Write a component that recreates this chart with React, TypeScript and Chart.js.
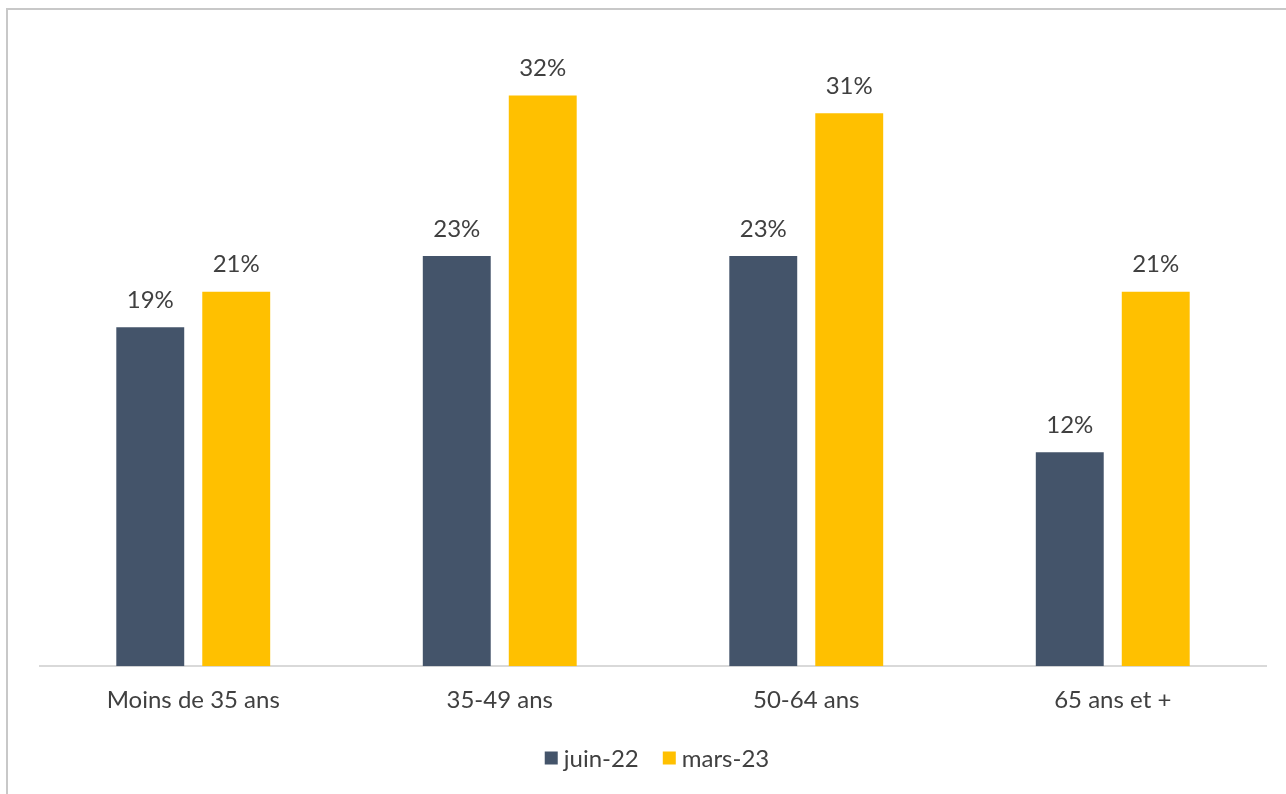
import React, { useEffect, useRef } from "react";
import { Chart, registerables } from "chart.js";

Chart.register(...registerables);

const categories = ["Moins de 35 ans", "35-49 ans", "50-64 ans", "65 ans et +"];
const seriesNames = ["juin-22", "mars-23"];
const juin22 = [19, 23, 23, 12];
const mars23 = [21, 32, 31, 21];
const seriesColors = ["#44546A", "#FFC000"];

const FONT = "Lato";
const TEXT = "#404040";

const valueLabels = {
  id: "valueLabels",
  afterDatasetsDraw(chart: any) {
    const ctx = chart.ctx;
    ctx.save();
    ctx.font = `24px ${FONT}`;
    ctx.fillStyle = TEXT;
    ctx.textAlign = "center";
    ctx.textBaseline = "middle";
    chart.data.datasets.forEach((ds: any, i: number) => {
      const meta = chart.getDatasetMeta(i);
      meta.data.forEach((bar: any, j: number) => {
        ctx.fillText(ds.data[j] + "%", bar.x, bar.y - 27);
      });
    });
    ctx.restore();
  },
};

const customLegend = {
  id: "customLegend",
  afterDraw(chart: any) {
    const ctx = chart.ctx;
    ctx.save();
    ctx.font = `24px ${FONT}`;
    ctx.textBaseline = "middle";
    ctx.textAlign = "left";
    const box = 13;
    const gap = 6;
    const itemGap = 24;
    const widths = chart.data.datasets.map((ds: any) => box + gap + ctx.measureText(ds.label).width);
    const total = widths.reduce((a: number, b: number) => a + b, 0) + itemGap * (widths.length - 1);
    const ca = chart.chartArea;
    let x = (ca.left + ca.right) / 2 - total / 2 + 4;
    const y = 758;
    chart.data.datasets.forEach((ds: any, i: number) => {
      ctx.fillStyle = ds.backgroundColor;
      ctx.fillRect(x, y - box / 2, box, box);
      ctx.fillStyle = TEXT;
      ctx.fillText(ds.label, x + box + gap, y + 1);
      x += widths[i] + itemGap;
    });
    ctx.restore();
  },
};

export default function App() {
  const ref = useRef<HTMLCanvasElement>(null);
  useEffect(() => {
    const chart = new Chart(ref.current!, {
      type: "bar",
      data: {
        labels: categories,
        datasets: [
          { label: seriesNames[0], data: juin22, backgroundColor: seriesColors[0] },
          { label: seriesNames[1], data: mars23, backgroundColor: seriesColors[1] },
        ],
      },
      options: {
        animation: false,
        responsive: false,
        maintainAspectRatio: false,
        layout: { padding: { left: 40, right: 20, top: 42, bottom: 59 } },
        datasets: {
          bar: { categoryPercentage: 0.561, barPercentage: 0.79 },
        } as any,
        scales: {
          x: {
            grid: { display: false, drawTicks: false },
            border: { color: "#D9D9D9", width: 2 },
            ticks: { color: TEXT, font: { family: FONT, size: 24 }, padding: 20 },
          },
          y: { display: false, min: 0, max: 35 },
        },
        plugins: {
          legend: { display: false },
          tooltip: { enabled: false },
        },
      },
      plugins: [valueLabels, customLegend],
    });
    return () => chart.destroy();
  }, []);
  return (
    <div style={{ position: "fixed", left: 0, top: 0, width: 1286, height: 794, background: "#fff" }}>
      <div
        style={{
          position: "absolute",
          left: 6,
          top: 8,
          right: 0,
          bottom: 0,
          borderTop: "2px solid #C8C8C8",
          borderLeft: "2px solid #C8C8C8",
        }}
      />
      <canvas ref={ref} width={1286} height={794} style={{ position: "absolute", left: 0, top: 0 }} />
    </div>
  );
}
